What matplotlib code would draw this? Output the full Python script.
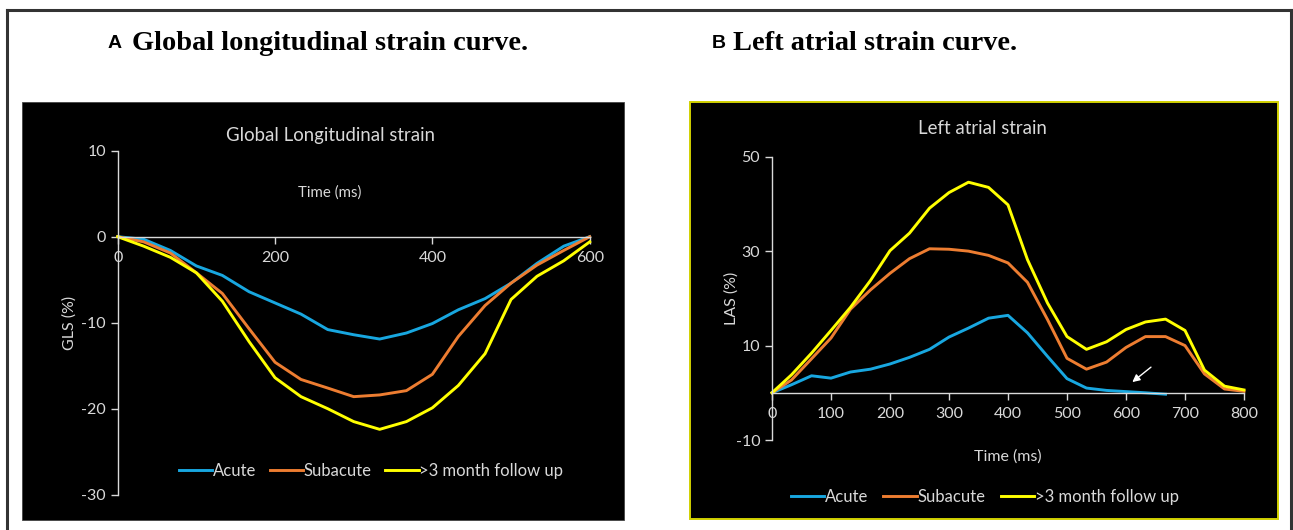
import matplotlib
matplotlib.use("Agg")
import matplotlib.pyplot as plt
from matplotlib.patches import Rectangle
from matplotlib.lines import Line2D

W, H = 1293, 530
plt.rcParams["axes.unicode_minus"] = False

# ---- data -------------------------------------------------------------
series_names = ["Acute", "Subacute", ">3 month follow up"]
series_colors = ["#18A7E0", "#ED7D31", "#FFFF00"]

gls_time = [0, 33, 67, 100, 133, 167, 200, 233, 267, 300, 333, 367, 400,
            433, 467, 500, 533, 567, 600]
gls_acute = [0, -0.3, -1.6, -3.4, -4.5, -6.4, -7.7, -9.0, -10.8, -11.4,
             -11.9, -11.2, -10.1, -8.5, -7.2, -5.4, -3.1, -1.1, 0]
gls_subacute = [0, -0.6, -1.9, -4.2, -6.6, -10.7, -14.6, -16.6, -17.6,
                -18.6, -18.4, -17.9, -16.0, -11.6, -8.0, -5.4, -3.3, -1.6, 0]
gls_followup = [0, -1.1, -2.4, -4.2, -7.5, -12.2, -16.4, -18.6, -20.0,
                -21.5, -22.4, -21.5, -19.9, -17.3, -13.6, -7.3, -4.6, -2.8,
                -0.6]
gls_xticks = [0, 200, 400, 600]
gls_yticks = [10, 0, -10, -20, -30]

las_time = [0, 33, 67, 100, 133, 167, 200, 233, 267, 300, 333, 367, 400,
            433, 467, 500, 533, 567, 600, 633, 667, 700, 733, 767, 800]
las_acute = [0, 1.7, 3.6, 3.1, 4.4, 5.0, 6.1, 7.5, 9.2, 11.8, 13.7, 15.8,
             16.4, 12.7, 7.7, 3.0, 1.0, 0.5, 0.25, 0.0, -0.3]
las_subacute = [0, 2.7, 7.2, 11.6, 17.7, 21.8, 25.3, 28.4, 30.5, 30.4, 30.0,
                29.1, 27.5, 23.4, 15.5, 7.3, 5.0, 6.5, 9.6, 11.9, 11.9, 10.0,
                4.0, 0.8, 0.3]
las_followup = [0, 3.8, 8.4, 13.2, 18.1, 23.8, 30.1, 33.8, 39.1, 42.4, 44.6,
                43.5, 39.8, 28.2, 19.0, 11.9, 9.2, 10.8, 13.4, 15.0, 15.6,
                13.2, 4.8, 1.4, 0.6]
las_xticks = [0, 100, 200, 300, 400, 500, 600, 700, 800]
las_yticks = [50, 30, 10, -10]

# ---- figure -----------------------------------------------------------
fig = plt.figure(figsize=(W / 100, H / 100), dpi=100)
fig.patch.set_facecolor("white")

TXT = "#d9d9d9"
FONT = "Lato"


def fx(px):
    return px / W


def fy(py):
    return 1 - py / H


def add_rect(x0, y0, x1, y1, **kw):
    fig.patches.append(Rectangle((fx(x0), fy(y1)), fx(x1) - fx(x0),
                                 fy(y0) - fy(y1), transform=fig.transFigure,
                                 zorder=-5, **kw))


# outer frame
for xs, ys in [((7, 1291), (10, 10)), ((7, 7), (10, 530)),
               ((1291, 1291), (10, 530))]:
    fig.add_artist(Line2D([fx(x) for x in xs], [fy(y) for y in ys],
                          color="#333333", lw=2.2, zorder=-5,
                          transform=fig.transFigure))

# black chart panels
add_rect(22, 102, 624, 520, facecolor="black", edgecolor="#444444", lw=0.6)
add_rect(690, 102, 1278, 519, facecolor="black", edgecolor="#d0d000", lw=1.4)


def panel_axes(x0, x1, ytop, ybot):
    ax = fig.add_axes([fx(x0), fy(ybot), fx(x1) - fx(x0), fy(ytop) - fy(ybot)])
    ax.set_zorder(2)
    ax.set_facecolor("none")
    for s in ("top", "right"):
        ax.spines[s].set_visible(False)
    ax.spines["left"].set_color(TXT)
    ax.spines["bottom"].set_color(TXT)
    ax.spines["left"].set_linewidth(1.0)
    ax.spines["bottom"].set_linewidth(1.0)
    ax.spines["bottom"].set_position(("data", 0))
    ax.tick_params(colors=TXT, labelcolor=TXT, labelsize=11.5, length=5,
                   width=1.0, direction="out")
    return ax


def finish_ticks(ax):
    for lab in ax.get_xticklabels() + ax.get_yticklabels():
        lab.set_fontfamily(FONT)
        lab.set_color(TXT)


# ---- panel A: GLS -------------------------------------------------------
axA = panel_axes(117.7, 589.7, 150.7, 494.7)
axA.set_xlim(0, 600)
axA.set_ylim(-30, 10)
axA.set_xticks(gls_xticks)
axA.set_yticks(gls_yticks)
axA.tick_params(axis="x", pad=5)
for ys, c, n in zip([gls_acute, gls_subacute, gls_followup], series_colors,
                    series_names):
    axA.plot(gls_time, ys, color=c, lw=2.1, label=n, solid_joinstyle="round",
             clip_on=False)
finish_ticks(axA)
axA.text(0.45, 1.045, "Global Longitudinal strain", transform=axA.transAxes,
         ha="center", va="center", color=TXT, fontsize=13.4, family=FONT)
axA.text(0.45, 0.877, "Time (ms)", transform=axA.transAxes, ha="center",
         va="center", color=TXT, fontsize=10.8, family=FONT)
axA.set_ylabel("GLS (%)", color=TXT, fontsize=11.5, family=FONT)
axA.yaxis.set_label_coords(-0.086, 0.5)
legA = axA.legend(loc="center", bbox_to_anchor=(0.537, 0.07), ncol=3,
                  frameon=False, handlelength=2.0, handletextpad=0.05,
                  columnspacing=0.8, prop={"family": FONT, "size": 12})
for t in legA.get_texts():
    t.set_color(TXT)

# ---- panel B: LAS -------------------------------------------------------
axB = panel_axes(772, 1244, 156.7, 440)
axB.set_xlim(0, 800)
axB.set_ylim(-10, 50)
axB.set_xticks(las_xticks)
axB.set_yticks(las_yticks)
axB.tick_params(axis="x", pad=5)
for ts, ys, c, n in zip([las_time[:len(las_acute)], las_time, las_time],
                        [las_acute, las_subacute, las_followup],
                        series_colors, series_names):
    axB.plot(ts, ys, color=c, lw=2.1, label=n, solid_joinstyle="round",
             clip_on=False)
finish_ticks(axB)
axB.text(0.445, 1.10, "Left atrial strain", transform=axB.transAxes,
         ha="center", va="center", color=TXT, fontsize=13.4, family=FONT)
axB.set_xlabel("Time (ms)", color=TXT, fontsize=11.5, family=FONT,
               labelpad=21)
axB.set_ylabel("LAS (%)", color=TXT, fontsize=11.5, family=FONT)
axB.yaxis.set_label_coords(-0.070, 0.5)
axB.annotate("", xy=(607, 1.9), xytext=(646, 5.8),
             arrowprops=dict(arrowstyle="-|>", color="white", lw=1.0,
                             mutation_scale=11))
legB = axB.legend(loc="center", bbox_to_anchor=(0.451, -0.2), ncol=3,
                  frameon=False, handlelength=2.0, handletextpad=0.05,
                  columnspacing=0.9, prop={"family": FONT, "size": 12})
for t in legB.get_texts():
    t.set_color(TXT)

# ---- headings -----------------------------------------------------------
fig.text(fx(108), fy(44), "A", fontsize=14, fontweight="bold",
         family="Liberation Sans", va="center", ha="left", color="black")
fig.text(fx(132), fy(44), "Global longitudinal strain curve.", fontsize=20.4,
         fontweight="bold", family="Liberation Serif", va="center",
         ha="left", color="black")
fig.text(fx(712), fy(44), "B", fontsize=14, fontweight="bold",
         family="Liberation Sans", va="center", ha="left", color="black")
fig.text(fx(733), fy(44), "Left atrial strain curve.", fontsize=20.4,
         fontweight="bold", family="Liberation Serif", va="center",
         ha="left", color="black")

fig.savefig("out.png", dpi=100, facecolor="white")
